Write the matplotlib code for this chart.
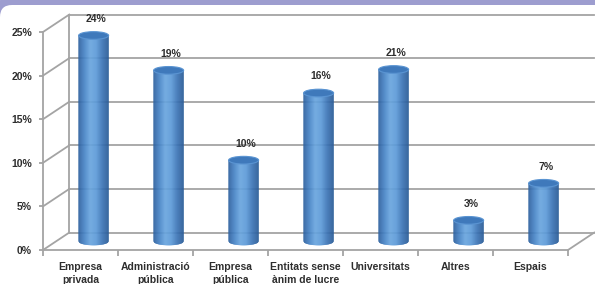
import numpy as np
import matplotlib
matplotlib.use("Agg")
import matplotlib.pyplot as plt
from matplotlib.collections import PolyCollection
from matplotlib.patches import Ellipse, Rectangle, FancyBboxPatch
from matplotlib.colors import LinearSegmentedColormap

# data
categories = ["Empresa\nprivada", "Administració\npública", "Empresa\npública",
              "Entitats sense\nànim de lucre", "Universitats", "Altres", "Espais"]
heights = [23.6, 19.6, 9.3, 17.0, 19.7, 2.4, 6.65]
value_labels = ["24%", "19%", "10%", "16%", "21%", "3%", "7%"]
y_ticks = [0, 5, 10, 15, 20, 25]

DX, DY = 0.35, 2.0   # depth of the 3D box, in data units
GRID = "#a4a4a4"
TXT = "#2e2e2e"
LW = 1.3
plt.rcParams['font.family'] = ['Liberation Sans', 'DejaVu Sans']

fig = plt.figure(figsize=(5.95, 2.84), dpi=100)

# purple header band with rounded white corner under it
fig.patches.append(Rectangle((0, 0.9), 1, 0.1, transform=fig.transFigure,
                             color='#9d9dcf', zorder=0))
fig.patches.append(FancyBboxPatch((0, -0.2), 6.3, 2.99,
                                  boxstyle="round,pad=0,rounding_size=0.12",
                                  transform=fig.dpi_scale_trans,
                                  fc='white', ec='none', zorder=0.5))

ax = fig.add_axes([43 / 595, 34 / 284, 525 / 595, 218 / 284])
ax.set_zorder(1)
ax.patch.set_visible(False)
ax.set_xlim(-0.5, 6.5)
ax.set_ylim(0, 25)

# back wall, floor and side diagonals
for t in y_ticks:
    ax.plot([-0.5 + DX, 6.5 + DX], [t + DY, t + DY], color=GRID, lw=LW,
            clip_on=False, zorder=1)
    ax.plot([-0.5, -0.5 + DX], [t, t + DY], color=GRID, lw=LW,
            clip_on=False, zorder=1)
ax.plot([-0.5 + DX] * 2, [DY, 25 + DY], color=GRID, lw=LW, clip_on=False, zorder=1)
ax.plot([6.5, 6.5 + DX], [0, DY], color=GRID, lw=LW, clip_on=False, zorder=1)

for s in ['top', 'right']:
    ax.spines[s].set_visible(False)
for s in ['left', 'bottom']:
    ax.spines[s].set_color(GRID)
    ax.spines[s].set_linewidth(LW)

ax.set_yticks(y_ticks, [f"{t}%" for t in y_ticks])
ax.tick_params(axis='y', length=3, color=GRID, width=LW, pad=5,
               labelsize=7.5, labelcolor=TXT)
ax.set_xticks(np.arange(-0.5, 7, 1), [""] * 8)
ax.set_xticks(range(7), categories, minor=True)
ax.tick_params(axis='x', which='major', length=4, color=GRID, width=LW)
ax.tick_params(axis='x', which='minor', length=0, pad=9, labelsize=7.5,
               labelcolor=TXT)
for lab in ax.get_yticklabels() + ax.get_xticklabels(minor=True):
    lab.set_fontweight('bold')
    lab.set_linespacing(1.3)

# cylinders
cmap = LinearSegmentedColormap.from_list(
    "cyl", ['#2d609e', '#4683c6', '#6aa6df', '#5c9ad8', '#3c74b6', '#2b5c98'])
a, e, N = 0.2, 0.44, 30
u = np.linspace(-1, 1, N + 1)
for i, (h, lab) in enumerate(zip(heights, value_labels)):
    xc = i + DX / 2
    base = DY / 2
    xs = xc + a * u
    ys = base - e * np.sqrt(1 - u ** 2)
    polys = [[(xs[k], ys[k]), (xs[k + 1], ys[k + 1]),
              (xs[k + 1], base + h), (xs[k], base + h)] for k in range(N)]
    cols = [cmap((k + 0.5) / N) for k in range(N)]
    ax.add_collection(PolyCollection(polys, facecolors=cols, edgecolors=cols,
                                     linewidths=0.3, clip_on=False, zorder=3))
    ax.add_patch(Ellipse((xc, base + h), 2 * a, 2 * e, fc='#3f79bb',
                         ec='#5a94d2', lw=0.8, zorder=4, clip_on=False))
    ax.text(xc + 0.03, h + 2.9, lab, ha='center', va='center', fontsize=7.5,
            fontweight='bold', color=TXT, clip_on=False)

fig.savefig("out.png", dpi=100)
